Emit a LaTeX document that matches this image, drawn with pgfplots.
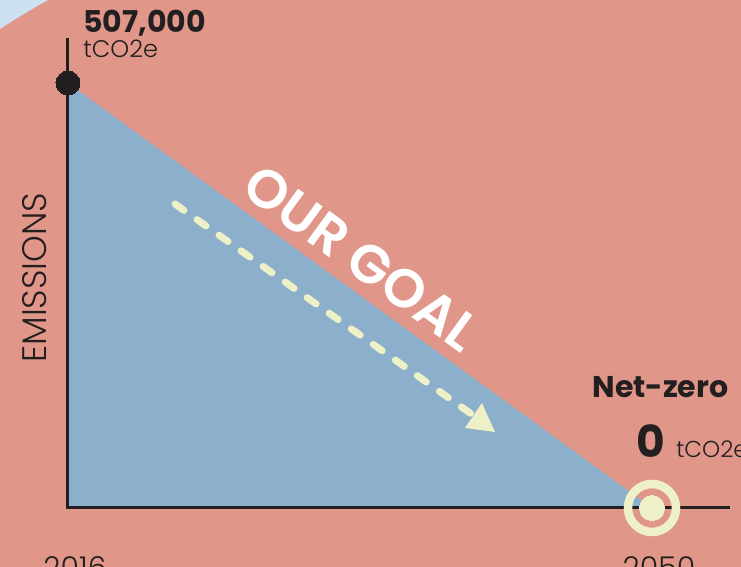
\documentclass[border=0pt]{standalone}
\usepackage{pgfplots}
\pgfplotsset{compat=1.18}
\usepackage{fontspec}
\setmainfont{Poppins}
\newfontfamily\lightfont{Poppins Light}
\newfontfamily\semifont{Poppins SemiBold}
\definecolor{salmon}{HTML}{E09689}
\definecolor{skyblue}{HTML}{CEE1F2}
\definecolor{fillblue}{HTML}{8CAFCB}
\definecolor{cream}{HTML}{EEF0C8}
\definecolor{ink}{HTML}{231F20}
\begin{document}
\begin{tikzpicture}
% page: 741 x 567 px, 1px = 0.5pt
\fill[skyblue] (0,0) rectangle (370.5pt,283.5pt);
\fill[salmon] (243.8pt,-109.65pt) circle (450.25pt);
\begin{axis}[
    at={(34pt,29.5pt)}, anchor=south west,
    scale only axis,
    width=331pt, height=235pt,
    xmin=2016, xmax=2054.54,
    ymin=0, ymax=560682,
    clip=false,
    axis lines=left,
    axis line style={draw=none},
    xtick={2016,2050},
    xticklabels={2016,2050},
    ytick=\empty,
    major tick length=0pt,
    xticklabel style={font=\lightfont\fontsize{15}{15}\selectfont, text=ink,
        anchor=north, inner sep=0pt, yshift=-24pt, xshift=3.5pt},
    ylabel={EMISSIONS},
    ylabel style={font=\lightfont\fontsize{17}{17}\selectfont, text=ink,
        at={(axis description cs:-0.0498,0.49)}, anchor=center},
]
% emissions pathway area
\addplot[fill=fillblue, draw=none]
    coordinates {(2016,0) (2016,507000) (2050,0)};
% axis lines
\addplot[ink, line width=1.5pt]
    coordinates {(2016,560682) (2016,0) (2054.54,0)};
% dashed trend arrow
\addplot[cream, line width=3.5pt, line cap=round, dash pattern=on 5.5pt off 8pt]
    coordinates {(2022.23,362654) (2039.61,110347)};
\addplot[fill=cream, draw=none]
    coordinates {(2039.11,95435) (2040.10,125259) (2040.86,90664)};
% start point
\addplot[ink, only marks, mark=*, mark size=6pt, mark options={solid, fill=ink, draw=ink, line width=0pt}]
    coordinates {(2016,507000)};
% target
\addplot[cream, only marks, mark=o, mark size=12pt, mark options={solid, draw=cream, line width=4.25pt}]
    coordinates {(2050,0)};
\addplot[cream, only marks, mark=*, mark size=6.25pt, mark options={solid, fill=cream, draw=cream, line width=0pt}]
    coordinates {(2050,0)};
% annotations
\node[anchor=base west, inner sep=0pt, text=ink, font=\bfseries\fontsize{15}{15}\selectfont]
    at (axis cs:2016.87,566650) {507,000};
\node[anchor=base west, inner sep=0pt, text=ink, font=\lightfont\fontsize{12}{12}\selectfont]
    at (axis cs:2016.87,536825) {tCO2e};
\node[anchor=base west, inner sep=0pt, text=ink, font=\bfseries\fontsize{15}{15}\selectfont]
    at (axis cs:2046.51,132012) {Net-zero};
\node[anchor=base west, inner sep=0pt, text=ink, font=\bfseries\fontsize{22}{22}\selectfont]
    at (axis cs:2049.07,59650) {0};
\node[anchor=base west, inner sep=0pt, text=ink, font=\lightfont\fontsize{11.5}{11.5}\selectfont]
    at (axis cs:2051.39,59650) {tCO2e};
\node[rotate=-36, text=white, font=\semifont\fontsize{27}{27}\selectfont]
    at (axis cs:2033.1,298500) {OUR GOAL};
\end{axis}
\pgfresetboundingbox
\useasboundingbox (0,0) rectangle (370.5pt,283.5pt);
\end{tikzpicture}
\end{document}
